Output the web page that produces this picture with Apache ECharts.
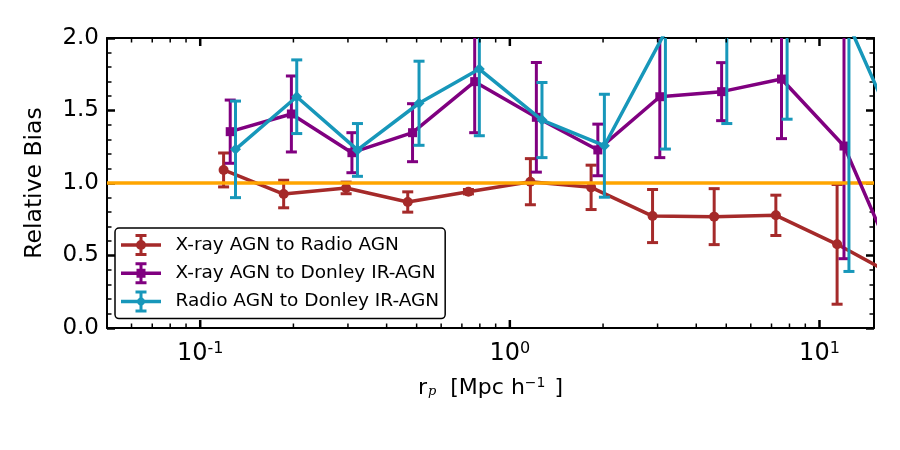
<!DOCTYPE html>
<html lang="en">

<head>
    <meta charset="UTF-8">
    <title>Relative Bias</title>
    <script src="https://cdn.jsdelivr.net/npm/echarts@6.0.0/dist/echarts.min.js"></script>
    <style>
        html, body { margin: 0; padding: 0; background: #fff; }
    </style>
</head>

<body>
    <div id="main" style="width: 900px;height:450px;"></div>

    <script type="text/javascript">
        // X-ray AGN to Radio AGN
        const rRed = [0.119, 0.186, 0.296, 0.468, 0.735, 1.165, 1.83, 2.89, 4.57, 7.23, 11.4, 18.1];
        const biasRed = [1.09, 0.924, 0.966, 0.869, 0.94, 1.009, 0.970, 0.772, 0.768, 0.777, 0.577, 0.343];
        const errRed = [0.117, 0.095, 0.04, 0.07, 0.015, 0.159, 0.153, 0.183, 0.193, 0.139, 0.413, 0.3];

        // X-ray AGN to Donley IR-AGN
        const rPurple = [0.125, 0.197, 0.309, 0.485, 0.77, 1.218, 1.924, 3.05, 4.83, 7.54, 12.0, 19.0];
        const biasPurple = [1.354, 1.476, 1.209, 1.347, 1.699, 1.453, 1.228, 1.595, 1.63, 1.717, 1.255, 0.275];
        const errPurple = [0.218, 0.262, 0.138, 0.2, 0.352, 0.378, 0.178, 0.42, 0.2, 0.411, 0.777, 0.5];

        // Radio AGN to Donley IR-AGN
        const rCyan = [0.13, 0.205, 0.322, 0.509, 0.797, 1.27, 2.02, 3.18, 5.02, 7.86, 12.45, 19.7];
        const biasCyan = [1.232, 1.595, 1.228, 1.55, 1.786, 1.434, 1.257, 2.044, 2.5, 2.6, 2.09, 1.13];
        const errCyan = [0.333, 0.254, 0.182, 0.29, 0.46, 0.259, 0.355, 0.81, 1.09, 1.16, 1.7, 0.6];

        // log axis ticks
        const majorTicksX = [0.1, 1, 10];
        const minorTicksX = [0.06, 0.07, 0.08, 0.09, 0.2, 0.3, 0.4, 0.5, 0.6, 0.7, 0.8, 0.9,
            2, 3, 4, 5, 6, 7, 8, 9];

        const names = ['X-ray AGN to Radio AGN', 'X-ray AGN to Donley IR-AGN', 'Radio AGN to Donley IR-AGN'];
        const colors = ['#a52a2a', '#800080', '#1797ba'];
        const FONT = 'DejaVu Sans';

        const myChart = echarts.init(document.getElementById('main'));

        // legend glyphs: line + error bar + marker, drawn in a 40x22 box
        const base = 'M0 9.25 H40 V12.75 H0 Z M18.5 1 H21.5 V21 H18.5 Z M14.5 0 H25.5 V3 H14.5 Z M14.5 19 H25.5 V22 H14.5 Z ';
        const icons = [
            'path://' + base + 'M25 11 A5 5 0 1 1 15 11 A5 5 0 1 1 25 11 Z',
            'path://' + base + 'M15.5 6.5 H24.5 V15.5 H15.5 Z',
            'path://' + base + 'M20 5.5 L25.5 11 L20 16.5 L14.5 11 Z'
        ];

        function pairs(xs, ys) {
            return xs.map((x, i) => [x, ys[i]]);
        }

        function errData(xs, ys, es) {
            return xs.map((x, i) => [x, ys[i] - es[i], ys[i] + es[i]]);
        }

        function renderErr(params, api) {
            const cs = params.coordSys;
            const x = api.coord([api.value(0), 1])[0];
            if (x < cs.x || x > cs.x + cs.width) return;
            const top = cs.y, bottom = cs.y + cs.height;
            let yLo = api.coord([api.value(0), api.value(1)])[1];
            let yHi = api.coord([api.value(0), api.value(2)])[1];
            const style = { stroke: api.visual('color'), lineWidth: 3 };
            const children = [];
            const capHi = yHi >= top, capLo = yLo <= bottom;
            yHi = Math.max(yHi, top);
            yLo = Math.min(yLo, bottom);
            if (yHi >= yLo) return;
            children.push({ type: 'line', shape: { x1: x, y1: yLo, x2: x, y2: yHi }, style: style });
            if (capHi) children.push({ type: 'line', shape: { x1: x - 5.5, y1: yHi, x2: x + 5.5, y2: yHi }, style: style });
            if (capLo) children.push({ type: 'line', shape: { x1: x - 5.5, y1: yLo, x2: x + 5.5, y2: yLo }, style: style });
            return { type: 'group', children: children };
        }

        function renderTick(params, api) {
            const cs = params.coordSys;
            const v = api.value(0);
            const x = api.coord([v, 1])[0];
            const lg = Math.log10(v);
            const major = Math.abs(lg - Math.round(lg)) < 1e-6;
            const len = major ? 8 : 4.5;
            const style = { stroke: '#000', lineWidth: major ? 2.5 : 1.5 };
            const bottom = cs.y + cs.height;
            return {
                type: 'group', children: [
                    { type: 'line', shape: { x1: x, y1: bottom, x2: x, y2: bottom - len }, style: style },
                    { type: 'line', shape: { x1: x, y1: cs.y, x2: x, y2: cs.y + len }, style: style }
                ]
            };
        }

        const xData = [rRed, rPurple, rCyan];
        const yData = [biasRed, biasPurple, biasCyan];
        const eData = [errRed, errPurple, errCyan];
        const symbols = ['circle', 'rect', 'diamond'];
        const symbolSizes = [10, 9, 11];

        const series = [
            {
                name: 'ref',
                type: 'line',
                data: [],
                z: 1,
                markLine: {
                    silent: true,
                    symbol: 'none',
                    label: { show: false },
                    lineStyle: { color: '#ffa500', width: 3.5, type: 'solid' },
                    data: [{ yAxis: 1 }]
                }
            },
            {
                name: 'xticks',
                type: 'custom',
                renderItem: renderTick,
                data: majorTicksX.concat(minorTicksX).map(v => [v, 0]),
                z: 20,
                silent: true
            }
        ];

        for (let k = 0; k < 3; k++) {
            series.push({
                name: names[k] + ' err',
                type: 'custom',
                renderItem: renderErr,
                itemStyle: { color: colors[k] },
                encode: { x: 0, y: [1, 2] },
                data: errData(xData[k], yData[k], eData[k]),
                z: 2 + k * 2
            });
            series.push({
                name: names[k],
                type: 'line',
                data: pairs(xData[k], yData[k]),
                symbol: symbols[k],
                symbolSize: symbolSizes[k],
                showAllSymbol: true,
                clip: true,
                itemStyle: { color: colors[k] },
                lineStyle: { color: colors[k], width: 3.5 },
                z: 3 + k * 2
            });
        }

        const option = {
            animation: false,
            textStyle: { fontFamily: FONT },
            grid: { left: 107, right: 26, top: 38, bottom: 122 },
            legend: {
                data: names.map((n, i) => ({ name: n, icon: icons[i] })),
                orient: 'vertical',
                left: 115,
                top: 228,
                itemWidth: 41,
                itemHeight: 22,
                itemGap: 6.3,
                padding: [6, 6, 6, 6],
                backgroundColor: '#fff',
                borderColor: '#000',
                borderWidth: 1.5,
                borderRadius: 4,
                z: 30,
                textStyle: { fontFamily: FONT, fontSize: 18.5, color: '#000', padding: [0, 0, 0, 9] }
            },
            xAxis: [
                {
                    type: 'log',
                    logBase: 10,
                    min: 0.05,
                    max: 15,
                    position: 'bottom',
                    name: '{r|r}{p|p}{t|  [Mpc h}{s|−1}{t| ]}',
                    nameLocation: 'middle',
                    nameGap: 48,
                    nameTextStyle: {
                        rich: {
                            r: { fontFamily: FONT, fontSize: 22, color: '#000' },
                            p: { fontFamily: 'DejaVu Serif', fontStyle: 'italic', fontSize: 13, color: '#000', padding: [0, 0, -7, 1] },
                            t: { fontFamily: FONT, fontSize: 22, color: '#000' },
                            s: { fontFamily: FONT, fontSize: 14, color: '#000', padding: [0, 2, 10, 0] }
                        }
                    },
                    axisLine: { show: true, onZero: false, lineStyle: { color: '#000', width: 2 } },
                    axisTick: { show: false },
                    minorTick: { show: false },
                    splitLine: { show: false },
                    axisLabel: {
                        margin: 13,
                        showMinLabel: false,
                        showMaxLabel: false,
                        formatter: function (v) {
                            const lg = Math.log10(v);
                            if (Math.abs(lg - Math.round(lg)) > 1e-6) return '';
                            return '{b|10}{s|' + Math.round(lg) + '}';
                        },
                        rich: {
                            b: { fontFamily: FONT, fontSize: 24, color: '#000' },
                            s: { fontFamily: FONT, fontSize: 16, color: '#000', padding: [0, 0, 10, 0] }
                        }
                    }
                },
                {
                    type: 'log',
                    logBase: 10,
                    min: 0.05,
                    max: 15,
                    position: 'top',
                    axisLine: { show: true, onZero: false, lineStyle: { color: '#000', width: 2 } },
                    axisTick: { show: false },
                    axisLabel: { show: false },
                    splitLine: { show: false }
                }
            ],
            yAxis: [
                {
                    type: 'value',
                    min: 0,
                    max: 2,
                    interval: 0.5,
                    position: 'left',
                    name: 'Relative Bias',
                    nameLocation: 'middle',
                    nameGap: 60,
                    nameTextStyle: { fontFamily: FONT, fontSize: 23.5, color: '#000' },
                    axisLine: { show: true, onZero: false, lineStyle: { color: '#000', width: 2 } },
                    axisTick: { show: true, inside: true, length: 8, lineStyle: { color: '#000', width: 2.5 } },
                    minorTick: { show: true, splitNumber: 5, length: 4.5, lineStyle: { color: '#000', width: 1.5 } },
                    splitLine: { show: false },
                    axisLabel: {
                        margin: 8,
                        fontFamily: FONT,
                        fontSize: 23,
                        color: '#000',
                        formatter: v => v.toFixed(1)
                    }
                },
                {
                    type: 'value',
                    min: 0,
                    max: 2,
                    interval: 0.5,
                    position: 'right',
                    axisLine: { show: true, onZero: false, lineStyle: { color: '#000', width: 2 } },
                    axisTick: { show: true, inside: true, length: 8, lineStyle: { color: '#000', width: 2.5 } },
                    minorTick: { show: true, splitNumber: 5, length: 4.5, lineStyle: { color: '#000', width: 1.5 } },
                    splitLine: { show: false },
                    axisLabel: { show: false }
                }
            ],
            series: series
        };

        myChart.setOption(option);
    </script>
</body>

</html>
